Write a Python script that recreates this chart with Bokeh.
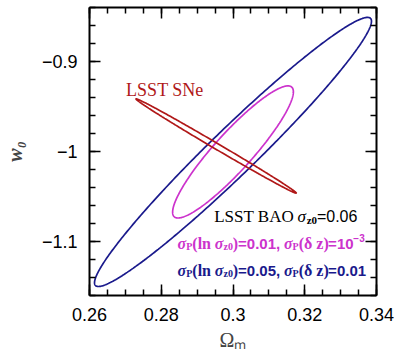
import numpy as np
from bokeh.plotting import figure
from bokeh.models import LinearAxis, FixedTicker, CustomJSTickFormatter
from bokeh.core.properties import value
from bokeh.embed import file_html
from bokeh.resources import INLINE

# ---- data -------------------------------------------------------------
x_ticks = [0.26, 0.28, 0.30, 0.32, 0.34]
y_ticks = [-1.1, -1.0, -0.9]
# ellipse parameters: centre x, centre y, half-extent x, half-extent y, correlation
ell_names = ["BAO_0.05", "BAO_0.01", "SNe"]
ell_cx = [0.3000, 0.3000, 0.2953]
ell_cy = [-1.0005, -1.0005, -0.9939]
ell_hx = [0.0386, 0.01683, 0.02234]
ell_hy = [0.1495, 0.0734, 0.0524]
ell_rho = [0.9717, 0.9105, -0.9975]
ell_colors = ["#1a1a8c", "#cc33cc", "#b01818"]

X0, X1 = 0.26, 0.34
Y0, Y1 = -1.16, -0.84
FL, FT, FW, FH = 86, 7, 290, 290
W, H = 400, 353

def dx(px):
    return X0 + (px - FL) / FW * (X1 - X0)

def dy(py):
    return Y1 - (py - FT) / FH * (Y1 - Y0)

p = figure(width=W, height=H, x_range=(X0, X1), y_range=(Y0, Y1),
           output_backend="svg", toolbar_location=None,
           min_border_left=FL, min_border_right=W - FL - FW,
           min_border_top=FT, min_border_bottom=H - FT - FH,
           x_axis_label="Ωₘ", y_axis_label="w₀")
p.background_fill_color = "white"
p.border_fill_color = "white"
p.outline_line_color = None
p.grid.visible = False

fmt = CustomJSTickFormatter(code="""
var s = Math.abs(tick).toFixed(2).replace(/0+$/, '').replace(/\\.$/, '');
return (tick < -1e-9 ? '\\u2212' : '') + s;
""")
blank = CustomJSTickFormatter(code="return '';")

xminor = list(np.round(np.arange(0.26, 0.3401, 0.005), 4))
yminor = list(np.round(np.arange(-1.16, -0.8399, 0.02), 4))
xt = FixedTicker(ticks=x_ticks, minor_ticks=xminor)
yt = FixedTicker(ticks=y_ticks, minor_ticks=yminor)

def style_axis(ax, labels=True):
    ax.axis_line_width = 2
    ax.axis_line_color = "black"
    ax.major_tick_in = 11
    ax.major_tick_out = 0
    ax.minor_tick_in = 6
    ax.minor_tick_out = 0
    ax.major_tick_line_width = 1.5
    ax.minor_tick_line_width = 1.5
    ax.major_tick_line_color = "black"
    ax.minor_tick_line_color = "black"
    if labels:
        ax.major_label_text_font = "Liberation Sans"
        ax.major_label_text_font_size = "18px"
        ax.major_label_text_color = "black"
        ax.major_label_standoff = 12
        ax.formatter = fmt
    else:
        ax.formatter = blank
        ax.major_label_standoff = 0

p.xaxis.ticker = xt
p.yaxis.ticker = yt
style_axis(p.xaxis[0])
style_axis(p.yaxis[0])
p.xaxis.axis_label_text_font = "Liberation Serif"
p.xaxis.axis_label_text_font_size = "20px"
p.xaxis.axis_label_text_font_style = "normal"
p.xaxis.axis_label_standoff = 5
p.yaxis.axis_label_text_font = "Liberation Serif"
p.yaxis.axis_label_text_font_size = "20px"
p.yaxis.axis_label_text_font_style = "bold italic"
p.yaxis.axis_label_standoff = 13

top = LinearAxis(ticker=xt)
style_axis(top, labels=False)
p.add_layout(top, "above")
right = LinearAxis(ticker=yt)
style_axis(right, labels=False)
p.add_layout(right, "right")

# ---- ellipses ---------------------------------------------------------
t = np.linspace(0, 2 * np.pi, 400)
for cx, cy, hx, hy, r, c in zip(ell_cx, ell_cy, ell_hx, ell_hy, ell_rho, ell_colors):
    xs = cx + hx * np.cos(t)
    ys = cy + hy * (r * np.cos(t) + np.sqrt(1 - r * r) * np.sin(t))
    p.line(xs, ys, line_color=c, line_width=1.7)

# ---- text runs --------------------------------------------------------
SERIF = "Liberation Serif"
SANS = "Liberation Sans"
W_SERIF = {'L': .611, 'S': .556, 'T': .611, ' ': .25, 'B': .667, 'A': .722,
           'O': .722, 'N': .722, 'e': .444, '(': .333, ')': .333, 'l': .278,
           'n': .556, 'z': .444, 'P': .611, '0': .5, 'δ': .5, 'σ': .55}
W_SANS = {'=': .584, '.': .278, ',': .278, ' ': .278, '−': .584}

def width(text, font, size):
    tab = W_SERIF if font == SERIF else W_SANS
    return sum(tab.get(ch, .556) for ch in text) * size

def runs(x_px, base_py, items, color):
    x = x_px
    for text, font, size, style, off in items:
        p.text(x=[dx(x)], y=[dy(base_py + off)], text=[text],
               text_font=value(font), text_font_size=f"{size}px",
               text_font_style=style, text_color=color,
               text_align="left", text_baseline="alphabetic")
        x += width(text, font, size)

runs(123, 90, [("LSST SNe", SERIF, 18, "normal", 0)], "#b01818")

runs(212, 217, [
    ("LSST BAO ", SERIF, 17, "normal", 0),
    ("σ", SERIF, 17, "italic", 0),
    ("z0", SERIF, 11, "bold", 4),
    ("=0.06", SANS, 16, "normal", 0),
], "black")

mag_runs = [
    ("σ", SERIF, 16, "bold italic", 0),
    ("P", SERIF, 10, "bold", 3),
    ("(ln ", SERIF, 16, "bold", 0),
    ("σ", SERIF, 16, "bold italic", 0),
    ("z0", SERIF, 10, "bold", 3),
    (")", SERIF, 16, "bold", 0),
    ("=0.01, ", SANS, 15, "bold", 0),
    ("σ", SERIF, 16, "bold italic", 0),
    ("P", SERIF, 10, "bold", 3),
    ("(δ z)", SERIF, 16, "bold", 0),
    ("=10", SANS, 15, "bold", 0),
    ("−3", SANS, 10, "bold", -6),
]
runs(175, 245, mag_runs, "#cc33cc")

blue_runs = [
    ("σ", SERIF, 16, "bold italic", 0),
    ("P", SERIF, 10, "bold", 3),
    ("(ln ", SERIF, 16, "bold", 0),
    ("σ", SERIF, 16, "bold italic", 0),
    ("z0", SERIF, 10, "bold", 3),
    (")", SERIF, 16, "bold", 0),
    ("=0.05, ", SANS, 15, "bold", 0),
    ("σ", SERIF, 16, "bold italic", 0),
    ("P", SERIF, 10, "bold", 3),
    ("(δ z)", SERIF, 16, "bold", 0),
    ("=0.01", SANS, 15, "bold", 0),
]
runs(175, 272, blue_runs, "#1a1a8c")

open("out.html", "w").write(file_html(p, INLINE))
